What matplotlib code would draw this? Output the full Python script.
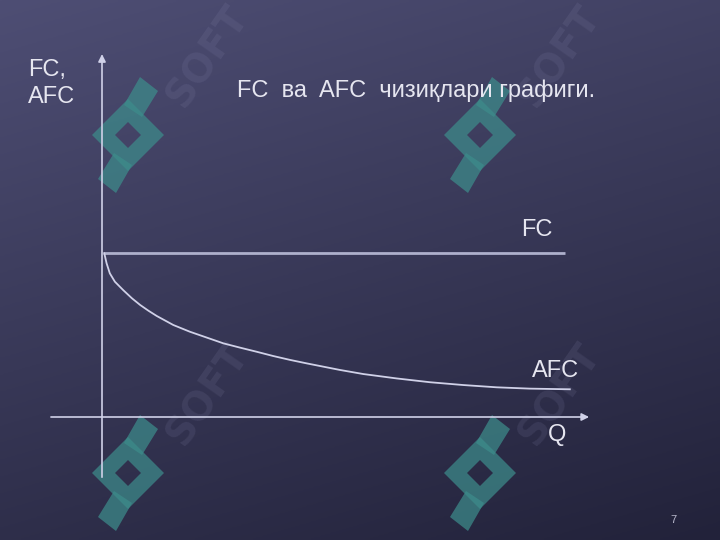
import numpy as np
import matplotlib
matplotlib.use("Agg")
import matplotlib.pyplot as plt
from matplotlib.path import Path
from matplotlib.patches import PathPatch, Polygon

# ---- data (Q units, cost units) ----
fc_q = [0.02, 10.07]
fc_val = [10.0, 10.0]
afc_q = [0.05, 0.10, 0.17, 0.28, 0.46, 0.65, 0.83, 1.01, 1.19, 1.55, 1.91, 2.28, 2.64,
         3.00, 3.36, 3.72, 4.09, 4.45, 4.81, 5.17, 5.68, 6.41, 7.13, 7.85, 8.58, 9.30, 10.17]
afc_val = [9.98, 9.37, 8.76, 8.25, 7.74, 7.24, 6.83, 6.48, 6.16, 5.61, 5.20, 4.84, 4.49,
           4.23, 3.98, 3.72, 3.48, 3.27, 3.07, 2.87, 2.62, 2.35, 2.12, 1.95, 1.81, 1.73, 1.69]
title = "FC  ва  AFC  чизиқлари графиги."
y_label = "FC,\nAFC"
x_label = "Q"
fc_label = "FC"
afc_label = "AFC"
page_no = "7"

FAM = ["Liberation Sans", "DejaVu Sans"]
TXT = "#e6e6f0"
LINE = "#d0d1e8"
W, H = 720, 540

fig = plt.figure(figsize=(7.2, 5.4), dpi=100)

# background gradient
bg = fig.add_axes([0, 0, 1, 1])
bg.set_axis_off()
yy, xx = np.mgrid[0:1:200j, 0:1:200j]
t = np.clip(0.72 * yy + 0.28 * xx, 0, 1)
top = np.array([78, 78, 116]) / 255
bot = np.array([34, 34, 58]) / 255
img = top[None, None, :] * (1 - t[..., None]) + bot[None, None, :] * t[..., None]
bg.imshow(img, extent=[0, W, H, 0], aspect="auto", origin="upper")
bg.set_xlim(0, W)
bg.set_ylim(H, 0)

# watermark logos (decoration)
def logo(cx, cy):
    R, r = 36, 13
    outer = [(cx, cy - R), (cx + R, cy), (cx, cy + R), (cx - R, cy), (cx, cy - R)]
    inner = [(cx, cy - r), (cx - r, cy), (cx, cy + r), (cx + r, cy), (cx, cy - r)]
    verts = outer + inner
    codes = [Path.MOVETO] + [Path.LINETO] * 3 + [Path.CLOSEPOLY]
    codes = codes + codes
    bg.add_patch(PathPatch(Path(verts, codes), facecolor="#3d8c8b", edgecolor="none",
                           alpha=0.72, zorder=2))
    bg.add_patch(Polygon([(cx - 4, cy - 30), (cx + 12, cy - 58), (cx + 30, cy - 44),
                          (cx + 14, cy - 18)], closed=True, facecolor="#3d8c8b",
                         edgecolor="none", alpha=0.72, zorder=2))
    bg.add_patch(Polygon([(cx + 4, cy + 30), (cx - 12, cy + 58), (cx - 30, cy + 44),
                          (cx - 14, cy + 18)], closed=True, facecolor="#3d8c8b",
                         edgecolor="none", alpha=0.72, zorder=2))
    bg.text(cx + 80, cy - 78, "SOFT", fontsize=28, fontweight="bold", color="#8a8ab0",
            alpha=0.15, rotation=55, ha="center", va="center", family="DejaVu Sans",
            zorder=2)

for c in [(128, 135), (480, 135), (128, 473), (480, 473)]:
    logo(*c)

ax = fig.add_axes([0, 0, 1, 1])
ax.patch.set_alpha(0)
ax.set_axis_off()
ax.set_xlim(-102 / 46, 618 / 46)
ax.set_ylim((417 - 540) / 16.4, 417 / 16.4)

# axes with arrows
ax.annotate("", xy=(10.65, 0), xytext=(-1.17, 0),
            arrowprops=dict(arrowstyle="-|>", color=LINE, lw=1.2, mutation_scale=11))
ax.annotate("", xy=(0, 22.3), xytext=(0, -3.84),
            arrowprops=dict(arrowstyle="-|>", color=LINE, lw=1.2, mutation_scale=11))

ax.plot(fc_q, fc_val, color="#aeb0cc", lw=2.0, solid_capstyle="butt")
ax.plot(afc_q, afc_val, color=LINE, lw=1.3)

def px(xp, yp):
    return ((xp - 102) / 46, (417 - yp) / 16.4)

ax.text(*px(28, 103), y_label, fontsize=17, color=TXT, family=FAM, ha="left",
        va="baseline", linespacing=1.28)
ax.text(*px(237, 97), title, fontsize=17, color=TXT, family=FAM, ha="left", va="baseline")
ax.text(*px(521, 236), fc_label, fontsize=17, color=TXT, family=FAM, ha="left", va="baseline")
ax.text(*px(532, 377), afc_label, fontsize=17, color=TXT, family=FAM, ha="left", va="baseline")
ax.text(*px(548, 441), x_label, fontsize=17, color=TXT, family=FAM, ha="left", va="baseline")
ax.text(*px(670, 523), page_no, fontsize=8, color="#b8b8cc", family=FAM, ha="left", va="baseline")

fig.savefig("out.png", dpi=100)
